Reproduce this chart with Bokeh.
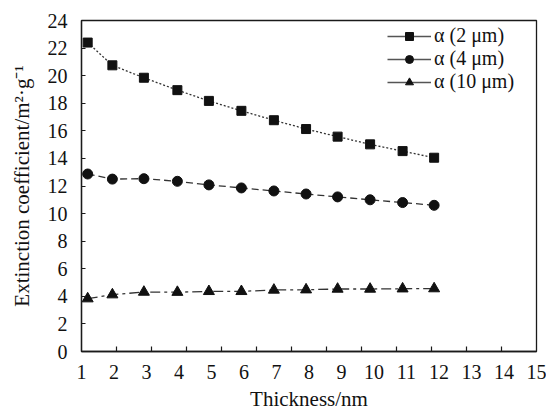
from bokeh.plotting import figure
from bokeh.models import Legend, LegendItem, FixedTicker, Range1d, ColumnDataSource
from bokeh.embed import file_html
from bokeh.resources import INLINE

# ---- data ----
thickness = [1.19, 1.95, 2.92, 3.95, 4.92, 5.92, 6.92, 7.91, 8.88, 9.88, 10.88, 11.85]
alpha_2um = [22.4, 20.75, 19.85, 18.95, 18.17, 17.45, 16.77, 16.13, 15.58, 15.02, 14.53, 14.05]
alpha_4um = [12.87, 12.5, 12.53, 12.34, 12.08, 11.86, 11.64, 11.42, 11.21, 11.0, 10.8, 10.6]
alpha_10um = [3.83, 4.12, 4.31, 4.3, 4.36, 4.36, 4.46, 4.48, 4.53, 4.53, 4.55, 4.56]
series_labels = ["\u03b1 (2 \u03bcm)", "\u03b1 (4 \u03bcm)", "\u03b1 (10 \u03bcm)"]
x_tick_labels = list(range(1, 16))
y_ticks = list(range(0, 25, 2))
x_title = "Thickness/nm"
y_title = "Extinction coefficient/m\u00b2\u00b7g\u207b\u00b9"

FONT = "'Liberation Serif', 'Times New Roman', serif"
INK = "#1a1a1a"

p = figure(width=546, height=413, output_backend="svg", toolbar_location=None,
           min_border_left=81, min_border_right=10, min_border_top=20, min_border_bottom=61,
           x_range=Range1d(1, 15), y_range=Range1d(0, 24))
p.grid.visible = False
p.outline_line_color = INK
p.outline_line_width = 1.3
p.background_fill_color = None   # transparent frame so inward ticks stay visible
p.border_fill_color = "white"

xa = p.xaxis[0]
ya = p.yaxis[0]

# x axis: labels 1..15, tick marks on a separate (13-interval) spacing as in the reference
n_int = 13
minor_pos = [1 + k * 14 / n_int for k in range(1, n_int)]
xa.ticker = FixedTicker(ticks=x_tick_labels, minor_ticks=minor_pos)
xa.major_tick_line_color = None
xa.minor_tick_in = 5
xa.minor_tick_out = 0
xa.minor_tick_line_color = INK
xa.minor_tick_line_width = 1.2
xa.major_label_standoff = 7
xa.axis_label = x_title
xa.axis_label_standoff = 5

ya.ticker = FixedTicker(ticks=y_ticks, minor_ticks=[])
ya.major_tick_in = 4
ya.major_tick_out = 0
ya.major_tick_line_color = INK
ya.major_tick_line_width = 1.2
ya.minor_tick_line_color = None
ya.major_label_standoff = 14
ya.axis_label = y_title
ya.axis_label_standoff = 11

for ax in (xa, ya):
    ax.axis_line_color = INK
    ax.axis_line_width = 1.3
    ax.major_label_text_font = FONT
    ax.major_label_text_font_size = "20px"
    ax.major_label_text_color = "#111111"
    ax.axis_label_text_font = FONT
    ax.axis_label_text_font_size = "21px"
    ax.axis_label_text_font_style = "normal"
    ax.axis_label_text_color = "#111111"

markers = ["square", "circle", "triangle"]
sizes = [9, 10, 11]
dashes = ["2 2", "7 4", "10 4 3 4"]
ys = [alpha_2um, alpha_4um, alpha_10um]

nan = float("nan")
items = []
for lab, y, mk, sz, dsh in zip(series_labels, ys, markers, sizes, dashes):
    src = ColumnDataSource(dict(x=thickness, y=y))
    p.line("x", "y", source=src, line_color="#333333", line_width=1.3, line_dash=dsh)
    p.scatter("x", "y", source=src, marker=mk, size=sz, fill_color="#111111", line_color="#111111")
    # legend glyphs: solid line + marker (NaN data so nothing drawn in the plot)
    esrc = ColumnDataSource(dict(x=[nan], y=[nan]))
    lr = p.line("x", "y", source=esrc, line_color="#555555", line_width=1.5)
    sr = p.scatter("x", "y", source=esrc, marker=mk, size=sz, fill_color="#111111", line_color="#111111")
    items.append(LegendItem(label=lab, renderers=[lr, sr]))

legend = Legend(items=items, location=(306, 258), orientation="vertical",
                border_line_color=None, background_fill_alpha=0,
                padding=0, margin=0, spacing=0,
                glyph_width=44, glyph_height=20, label_height=20,
                label_standoff=3,
                label_text_font=FONT, label_text_font_size="20px", label_text_color="#111111")
p.add_layout(legend, "center")

open("out.html", "w").write(file_html(p, INLINE))
